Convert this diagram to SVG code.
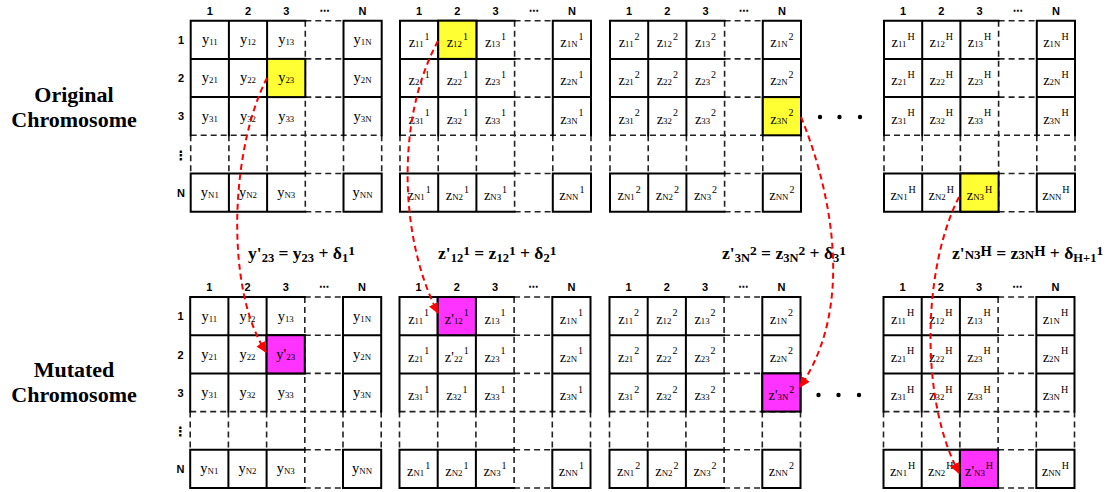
<svg xmlns="http://www.w3.org/2000/svg" xmlns:xlink="http://www.w3.org/1999/xlink" width="1118" height="492" viewBox="0 0 1118 492">
<style>
.bg{fill:#fff}
.sl{fill:none;stroke:#000;stroke-width:2;stroke-linecap:square}
.dl{fill:none;stroke:#222;stroke-width:1.6;stroke-dasharray:6 4}
.hy{fill:#FFFF33;stroke:#000;stroke-width:2}
.hm{fill:#FF33FF;stroke:#000;stroke-width:2}
.t{font-family:"Liberation Serif","Times New Roman",serif;font-size:14.5px;text-anchor:middle;fill:#000}
.s{font-size:8.8px}
.p{font-size:10px}
.h{font-family:"Liberation Sans",Arial,sans-serif;font-size:11px;font-weight:bold;text-anchor:middle;fill:#000}
.hd{font-family:"DejaVu Sans",sans-serif;font-size:10px;font-weight:bold;text-anchor:middle;fill:#000}
.hv{font-family:"DejaVu Sans",sans-serif;font-size:13px;font-weight:bold;text-anchor:middle;fill:#000}
.lab{font-family:"Liberation Serif","Times New Roman",serif;font-size:22px;font-weight:bold;text-anchor:middle;fill:#000}
.f{font-family:"Liberation Serif","Times New Roman",serif;font-size:17.5px;font-weight:bold;fill:#000}
.fs{font-size:12.5px}
.fp{font-size:13.5px}
.arr{fill:none;stroke:#FF0000;stroke-width:2;stroke-dasharray:6 4}
.dot{fill:#000}
</style>
<defs>
<g id="grid">
<path class="dl" d="M114.6,0H152.8 M114.6,38.2H152.8 M114.6,76.4H152.8 M114.6,152.8H152.8 M114.6,191H152.8 M0,114.6H191 M114.6,0V191 M0,114.6V152.8 M38.2,114.6V152.8 M76.4,114.6V152.8 M152.8,114.6V152.8 M191,114.6V152.8"/>
<path class="sl" d="M0,0H114.6 M152.8,0H191 M0,38.2H114.6 M152.8,38.2H191 M0,76.4H114.6 M152.8,76.4H191 M0,152.8H114.6 M152.8,152.8H191 M0,191H114.6 M152.8,191H191 M0,0V114.6 M0,152.8V191 M38.2,0V114.6 M38.2,152.8V191 M76.4,0V114.6 M76.4,152.8V191 M152.8,0V114.6 M152.8,152.8V191 M191,0V114.6 M191,152.8V191"/>
</g>
<g id="colhead">
<text class="h" x="19.1" y="-6">1</text>
<text class="h" x="57.3" y="-6">2</text>
<text class="h" x="95.5" y="-6">3</text>
<text class="hd" x="133.7" y="-7">⋯</text>
<text class="h" x="171.9" y="-6">N</text>
</g>
<g id="rowhead">
<text class="h" x="-9.7" y="23.4">1</text>
<text class="h" x="-9.7" y="61.6">2</text>
<text class="h" x="-9.7" y="99.8">3</text>
<text class="hv" x="-9.7" y="139">⋮</text>
<text class="h" x="-9.7" y="176.2">N</text>
</g>
<marker id="ah" viewBox="0 0 10 10" refX="9" refY="5" markerWidth="11" markerHeight="11" markerUnits="userSpaceOnUse" orient="auto">
<path d="M0,0.5 L10,5 L0,9.5 z" fill="#FF0000"/>
</marker>
</defs>
<rect class="bg" x="0" y="0" width="1118" height="492"/>

<g id="label-original">
<text class="lab" x="74" y="101.5">Original</text>
<text class="lab" x="74" y="126.5">Chromosome</text>
</g>
<g id="label-mutated">
<text class="lab" x="74" y="376.5">Mutated</text>
<text class="lab" x="74" y="401.5">Chromosome</text>
</g>

<!-- Top row: original chromosome -->
<g id="orig-y" transform="translate(190.7,20.7)">
<use href="#grid"/>
<rect class="hy" x="76.4" y="38.2" width="38.2" height="38.2"/>
<use href="#colhead"/>
<use href="#rowhead"/>
<g class="t">
<text x="19.1" y="23.6">y<tspan class="s" dy="1">11</tspan></text>
<text x="57.3" y="23.6">y<tspan class="s" dy="1">12</tspan></text>
<text x="95.5" y="23.6">y<tspan class="s" dy="1">13</tspan></text>
<text x="171.9" y="23.6">y<tspan class="s" dy="1">1N</tspan></text>
<text x="19.1" y="61.8">y<tspan class="s" dy="1">21</tspan></text>
<text x="57.3" y="61.8">y<tspan class="s" dy="1">22</tspan></text>
<text x="95.5" y="61.8">y<tspan class="s" dy="1">23</tspan></text>
<text x="171.9" y="61.8">y<tspan class="s" dy="1">2N</tspan></text>
<text x="19.1" y="100">y<tspan class="s" dy="1">31</tspan></text>
<text x="57.3" y="100">y<tspan class="s" dy="1">32</tspan></text>
<text x="95.5" y="100">y<tspan class="s" dy="1">33</tspan></text>
<text x="171.9" y="100">y<tspan class="s" dy="1">3N</tspan></text>
<text x="19.1" y="176.4">y<tspan class="s" dy="1">N1</tspan></text>
<text x="57.3" y="176.4">y<tspan class="s" dy="1">N2</tspan></text>
<text x="95.5" y="176.4">y<tspan class="s" dy="1">N3</tspan></text>
<text x="171.9" y="176.4">y<tspan class="s" dy="1">NN</tspan></text>
</g>
</g>

<g id="orig-z1" transform="translate(400,20.7)">
<use href="#grid"/>
<rect class="hy" x="38.2" y="0" width="38.2" height="38.2"/>
<use href="#colhead"/>
<g class="t">
<text x="19.1" y="26.6">z<tspan class="s">11</tspan><tspan class="p" dx="1" dy="-7.5">1</tspan></text>
<text x="57.3" y="26.6">z<tspan class="s">12</tspan><tspan class="p" dx="1" dy="-7.5">1</tspan></text>
<text x="95.5" y="26.6">z<tspan class="s">13</tspan><tspan class="p" dx="1" dy="-7.5">1</tspan></text>
<text x="171.9" y="26.6">z<tspan class="s">1N</tspan><tspan class="p" dx="1" dy="-7.5">1</tspan></text>
<text x="19.1" y="64.8">z<tspan class="s">21</tspan><tspan class="p" dx="1" dy="-7.5">1</tspan></text>
<text x="57.3" y="64.8">z<tspan class="s">22</tspan><tspan class="p" dx="1" dy="-7.5">1</tspan></text>
<text x="95.5" y="64.8">z<tspan class="s">23</tspan><tspan class="p" dx="1" dy="-7.5">1</tspan></text>
<text x="171.9" y="64.8">z<tspan class="s">2N</tspan><tspan class="p" dx="1" dy="-7.5">1</tspan></text>
<text x="19.1" y="103">z<tspan class="s">31</tspan><tspan class="p" dx="1" dy="-7.5">1</tspan></text>
<text x="57.3" y="103">z<tspan class="s">32</tspan><tspan class="p" dx="1" dy="-7.5">1</tspan></text>
<text x="95.5" y="103">z<tspan class="s">33</tspan><tspan class="p" dx="1" dy="-7.5">1</tspan></text>
<text x="171.9" y="103">z<tspan class="s">3N</tspan><tspan class="p" dx="1" dy="-7.5">1</tspan></text>
<text x="19.1" y="179.4">z<tspan class="s">N1</tspan><tspan class="p" dx="1" dy="-7.5">1</tspan></text>
<text x="57.3" y="179.4">z<tspan class="s">N2</tspan><tspan class="p" dx="1" dy="-7.5">1</tspan></text>
<text x="95.5" y="179.4">z<tspan class="s">N3</tspan><tspan class="p" dx="1" dy="-7.5">1</tspan></text>
<text x="171.9" y="179.4">z<tspan class="s">NN</tspan><tspan class="p" dx="1" dy="-7.5">1</tspan></text>
</g>
</g>

<g id="orig-z2" transform="translate(610,20.7)">
<use href="#grid"/>
<rect class="hy" x="152.8" y="76.4" width="38.2" height="38.2"/>
<use href="#colhead"/>
<g class="t">
<text x="19.1" y="26.6">z<tspan class="s">11</tspan><tspan class="p" dx="1" dy="-7.5">2</tspan></text>
<text x="57.3" y="26.6">z<tspan class="s">12</tspan><tspan class="p" dx="1" dy="-7.5">2</tspan></text>
<text x="95.5" y="26.6">z<tspan class="s">13</tspan><tspan class="p" dx="1" dy="-7.5">2</tspan></text>
<text x="171.9" y="26.6">z<tspan class="s">1N</tspan><tspan class="p" dx="1" dy="-7.5">2</tspan></text>
<text x="19.1" y="64.8">z<tspan class="s">21</tspan><tspan class="p" dx="1" dy="-7.5">2</tspan></text>
<text x="57.3" y="64.8">z<tspan class="s">22</tspan><tspan class="p" dx="1" dy="-7.5">2</tspan></text>
<text x="95.5" y="64.8">z<tspan class="s">23</tspan><tspan class="p" dx="1" dy="-7.5">2</tspan></text>
<text x="171.9" y="64.8">z<tspan class="s">2N</tspan><tspan class="p" dx="1" dy="-7.5">2</tspan></text>
<text x="19.1" y="103">z<tspan class="s">31</tspan><tspan class="p" dx="1" dy="-7.5">2</tspan></text>
<text x="57.3" y="103">z<tspan class="s">32</tspan><tspan class="p" dx="1" dy="-7.5">2</tspan></text>
<text x="95.5" y="103">z<tspan class="s">33</tspan><tspan class="p" dx="1" dy="-7.5">2</tspan></text>
<text x="171.9" y="103">z<tspan class="s">3N</tspan><tspan class="p" dx="1" dy="-7.5">2</tspan></text>
<text x="19.1" y="179.4">z<tspan class="s">N1</tspan><tspan class="p" dx="1" dy="-7.5">2</tspan></text>
<text x="57.3" y="179.4">z<tspan class="s">N2</tspan><tspan class="p" dx="1" dy="-7.5">2</tspan></text>
<text x="95.5" y="179.4">z<tspan class="s">N3</tspan><tspan class="p" dx="1" dy="-7.5">2</tspan></text>
<text x="171.9" y="179.4">z<tspan class="s">NN</tspan><tspan class="p" dx="1" dy="-7.5">2</tspan></text>
</g>
</g>

<g id="orig-zH" transform="translate(884,20.7)">
<use href="#grid"/>
<rect class="hy" x="76.4" y="152.8" width="38.2" height="38.2"/>
<use href="#colhead"/>
<g class="t">
<text x="19.1" y="26.6">z<tspan class="s">11</tspan><tspan class="p" dx="1" dy="-7.5">H</tspan></text>
<text x="57.3" y="26.6">z<tspan class="s">12</tspan><tspan class="p" dx="1" dy="-7.5">H</tspan></text>
<text x="95.5" y="26.6">z<tspan class="s">13</tspan><tspan class="p" dx="1" dy="-7.5">H</tspan></text>
<text x="171.9" y="26.6">z<tspan class="s">1N</tspan><tspan class="p" dx="1" dy="-7.5">H</tspan></text>
<text x="19.1" y="64.8">z<tspan class="s">21</tspan><tspan class="p" dx="1" dy="-7.5">H</tspan></text>
<text x="57.3" y="64.8">z<tspan class="s">22</tspan><tspan class="p" dx="1" dy="-7.5">H</tspan></text>
<text x="95.5" y="64.8">z<tspan class="s">23</tspan><tspan class="p" dx="1" dy="-7.5">H</tspan></text>
<text x="171.9" y="64.8">z<tspan class="s">2N</tspan><tspan class="p" dx="1" dy="-7.5">H</tspan></text>
<text x="19.1" y="103">z<tspan class="s">31</tspan><tspan class="p" dx="1" dy="-7.5">H</tspan></text>
<text x="57.3" y="103">z<tspan class="s">32</tspan><tspan class="p" dx="1" dy="-7.5">H</tspan></text>
<text x="95.5" y="103">z<tspan class="s">33</tspan><tspan class="p" dx="1" dy="-7.5">H</tspan></text>
<text x="171.9" y="103">z<tspan class="s">3N</tspan><tspan class="p" dx="1" dy="-7.5">H</tspan></text>
<text x="19.1" y="179.4">z<tspan class="s">N1</tspan><tspan class="p" dx="1" dy="-7.5">H</tspan></text>
<text x="57.3" y="179.4">z<tspan class="s">N2</tspan><tspan class="p" dx="1" dy="-7.5">H</tspan></text>
<text x="95.5" y="179.4">z<tspan class="s">N3</tspan><tspan class="p" dx="1" dy="-7.5">H</tspan></text>
<text x="171.9" y="179.4">z<tspan class="s">NN</tspan><tspan class="p" dx="1" dy="-7.5">H</tspan></text>
</g>
</g>

<!-- Bottom row: mutated chromosome -->
<g id="mut-y" transform="translate(190.2,297)">
<use href="#grid"/>
<rect class="hm" x="76.4" y="38.2" width="38.2" height="38.2"/>
<use href="#colhead"/>
<use href="#rowhead"/>
<g class="t">
<text x="19.1" y="23.6">y<tspan class="s" dy="1">11</tspan></text>
<text x="57.3" y="23.6">y<tspan class="s" dy="1">12</tspan></text>
<text x="95.5" y="23.6">y<tspan class="s" dy="1">13</tspan></text>
<text x="171.9" y="23.6">y<tspan class="s" dy="1">1N</tspan></text>
<text x="19.1" y="61.8">y<tspan class="s" dy="1">21</tspan></text>
<text x="57.3" y="61.8">y<tspan class="s" dy="1">22</tspan></text>
<text x="95.5" y="61.8">y'<tspan class="s" dy="1">23</tspan></text>
<text x="171.9" y="61.8">y<tspan class="s" dy="1">2N</tspan></text>
<text x="19.1" y="100">y<tspan class="s" dy="1">31</tspan></text>
<text x="57.3" y="100">y<tspan class="s" dy="1">32</tspan></text>
<text x="95.5" y="100">y<tspan class="s" dy="1">33</tspan></text>
<text x="171.9" y="100">y<tspan class="s" dy="1">3N</tspan></text>
<text x="19.1" y="176.4">y<tspan class="s" dy="1">N1</tspan></text>
<text x="57.3" y="176.4">y<tspan class="s" dy="1">N2</tspan></text>
<text x="95.5" y="176.4">y<tspan class="s" dy="1">N3</tspan></text>
<text x="171.9" y="176.4">y<tspan class="s" dy="1">NN</tspan></text>
</g>
</g>

<g id="mut-z1" transform="translate(399.5,297)">
<use href="#grid"/>
<rect class="hm" x="38.2" y="0" width="38.2" height="38.2"/>
<use href="#colhead"/>
<g class="t">
<text x="19.1" y="26.6">z<tspan class="s">11</tspan><tspan class="p" dx="1" dy="-7.5">1</tspan></text>
<text x="57.3" y="26.6">z'<tspan class="s">12</tspan><tspan class="p" dx="1" dy="-7.5">1</tspan></text>
<text x="95.5" y="26.6">z<tspan class="s">13</tspan><tspan class="p" dx="1" dy="-7.5">1</tspan></text>
<text x="171.9" y="26.6">z<tspan class="s">1N</tspan><tspan class="p" dx="1" dy="-7.5">1</tspan></text>
<text x="19.1" y="64.8">z<tspan class="s">21</tspan><tspan class="p" dx="1" dy="-7.5">1</tspan></text>
<text x="57.3" y="64.8">z'<tspan class="s">22</tspan><tspan class="p" dx="1" dy="-7.5">1</tspan></text>
<text x="95.5" y="64.8">z<tspan class="s">23</tspan><tspan class="p" dx="1" dy="-7.5">1</tspan></text>
<text x="171.9" y="64.8">z<tspan class="s">2N</tspan><tspan class="p" dx="1" dy="-7.5">1</tspan></text>
<text x="19.1" y="103">z<tspan class="s">31</tspan><tspan class="p" dx="1" dy="-7.5">1</tspan></text>
<text x="57.3" y="103">z<tspan class="s">32</tspan><tspan class="p" dx="1" dy="-7.5">1</tspan></text>
<text x="95.5" y="103">z<tspan class="s">33</tspan><tspan class="p" dx="1" dy="-7.5">1</tspan></text>
<text x="171.9" y="103">z<tspan class="s">3N</tspan><tspan class="p" dx="1" dy="-7.5">1</tspan></text>
<text x="19.1" y="179.4">z<tspan class="s">N1</tspan><tspan class="p" dx="1" dy="-7.5">1</tspan></text>
<text x="57.3" y="179.4">z<tspan class="s">N2</tspan><tspan class="p" dx="1" dy="-7.5">1</tspan></text>
<text x="95.5" y="179.4">z<tspan class="s">N3</tspan><tspan class="p" dx="1" dy="-7.5">1</tspan></text>
<text x="171.9" y="179.4">z<tspan class="s">NN</tspan><tspan class="p" dx="1" dy="-7.5">1</tspan></text>
</g>
</g>

<g id="mut-z2" transform="translate(609.5,297)">
<use href="#grid"/>
<rect class="hm" x="152.8" y="76.4" width="38.2" height="38.2"/>
<use href="#colhead"/>
<g class="t">
<text x="19.1" y="26.6">z<tspan class="s">11</tspan><tspan class="p" dx="1" dy="-7.5">2</tspan></text>
<text x="57.3" y="26.6">z<tspan class="s">12</tspan><tspan class="p" dx="1" dy="-7.5">2</tspan></text>
<text x="95.5" y="26.6">z<tspan class="s">13</tspan><tspan class="p" dx="1" dy="-7.5">2</tspan></text>
<text x="171.9" y="26.6">z<tspan class="s">1N</tspan><tspan class="p" dx="1" dy="-7.5">2</tspan></text>
<text x="19.1" y="64.8">z<tspan class="s">21</tspan><tspan class="p" dx="1" dy="-7.5">2</tspan></text>
<text x="57.3" y="64.8">z<tspan class="s">22</tspan><tspan class="p" dx="1" dy="-7.5">2</tspan></text>
<text x="95.5" y="64.8">z<tspan class="s">23</tspan><tspan class="p" dx="1" dy="-7.5">2</tspan></text>
<text x="171.9" y="64.8">z<tspan class="s">2N</tspan><tspan class="p" dx="1" dy="-7.5">2</tspan></text>
<text x="19.1" y="103">z<tspan class="s">31</tspan><tspan class="p" dx="1" dy="-7.5">2</tspan></text>
<text x="57.3" y="103">z<tspan class="s">32</tspan><tspan class="p" dx="1" dy="-7.5">2</tspan></text>
<text x="95.5" y="103">z<tspan class="s">33</tspan><tspan class="p" dx="1" dy="-7.5">2</tspan></text>
<text x="171.9" y="103">z'<tspan class="s">3N</tspan><tspan class="p" dx="1" dy="-7.5">2</tspan></text>
<text x="19.1" y="179.4">z<tspan class="s">N1</tspan><tspan class="p" dx="1" dy="-7.5">2</tspan></text>
<text x="57.3" y="179.4">z<tspan class="s">N2</tspan><tspan class="p" dx="1" dy="-7.5">2</tspan></text>
<text x="95.5" y="179.4">z<tspan class="s">N3</tspan><tspan class="p" dx="1" dy="-7.5">2</tspan></text>
<text x="171.9" y="179.4">z<tspan class="s">NN</tspan><tspan class="p" dx="1" dy="-7.5">2</tspan></text>
</g>
</g>

<g id="mut-zH" transform="translate(883.5,297)">
<use href="#grid"/>
<rect class="hm" x="76.4" y="152.8" width="38.2" height="38.2"/>
<use href="#colhead"/>
<g class="t">
<text x="19.1" y="26.6">z<tspan class="s">11</tspan><tspan class="p" dx="1" dy="-7.5">H</tspan></text>
<text x="57.3" y="26.6">z<tspan class="s">12</tspan><tspan class="p" dx="1" dy="-7.5">H</tspan></text>
<text x="95.5" y="26.6">z<tspan class="s">13</tspan><tspan class="p" dx="1" dy="-7.5">H</tspan></text>
<text x="171.9" y="26.6">z<tspan class="s">1N</tspan><tspan class="p" dx="1" dy="-7.5">H</tspan></text>
<text x="19.1" y="64.8">z<tspan class="s">21</tspan><tspan class="p" dx="1" dy="-7.5">H</tspan></text>
<text x="57.3" y="64.8">z<tspan class="s">22</tspan><tspan class="p" dx="1" dy="-7.5">H</tspan></text>
<text x="95.5" y="64.8">z<tspan class="s">23</tspan><tspan class="p" dx="1" dy="-7.5">H</tspan></text>
<text x="171.9" y="64.8">z<tspan class="s">2N</tspan><tspan class="p" dx="1" dy="-7.5">H</tspan></text>
<text x="19.1" y="103">z<tspan class="s">31</tspan><tspan class="p" dx="1" dy="-7.5">H</tspan></text>
<text x="57.3" y="103">z<tspan class="s">32</tspan><tspan class="p" dx="1" dy="-7.5">H</tspan></text>
<text x="95.5" y="103">z<tspan class="s">33</tspan><tspan class="p" dx="1" dy="-7.5">H</tspan></text>
<text x="171.9" y="103">z<tspan class="s">3N</tspan><tspan class="p" dx="1" dy="-7.5">H</tspan></text>
<text x="19.1" y="179.4">z<tspan class="s">N1</tspan><tspan class="p" dx="1" dy="-7.5">H</tspan></text>
<text x="57.3" y="179.4">z<tspan class="s">N2</tspan><tspan class="p" dx="1" dy="-7.5">H</tspan></text>
<text x="95.5" y="179.4">z'<tspan class="s">N3</tspan><tspan class="p" dx="1" dy="-7.5">H</tspan></text>
<text x="171.9" y="179.4">z<tspan class="s">NN</tspan><tspan class="p" dx="1" dy="-7.5">H</tspan></text>
</g>
</g>

<g id="ellipsis-top">
<circle class="dot" cx="820" cy="117" r="2.2"/>
<circle class="dot" cx="839.5" cy="117" r="2.2"/>
<circle class="dot" cx="860" cy="117" r="2.2"/>
</g>
<g id="ellipsis-bottom">
<circle class="dot" cx="818.5" cy="395" r="2.2"/>
<circle class="dot" cx="838.5" cy="395" r="2.2"/>
<circle class="dot" cx="859" cy="395" r="2.2"/>
</g>

<g id="formulas">
<text class="f" x="248" y="259">y'<tspan class="fs" dy="3">23</tspan><tspan dy="-3"> = y</tspan><tspan class="fs" dy="3">23</tspan><tspan dy="-3"> + δ</tspan><tspan class="fs" dy="3">1</tspan><tspan class="fp" dy="-7">1</tspan></text>
<text class="f" x="438" y="259">z'<tspan class="fs" dy="3">12</tspan><tspan class="fp" dy="-7">1</tspan><tspan dy="4"> = z</tspan><tspan class="fs" dy="3">12</tspan><tspan class="fp" dy="-7">1</tspan><tspan dy="4"> + δ</tspan><tspan class="fs" dy="3">2</tspan><tspan class="fp" dy="-7">1</tspan></text>
<text class="f" x="722" y="259">z'<tspan class="fs" dy="3">3N</tspan><tspan class="fp" dy="-7">2</tspan><tspan dy="4"> = z</tspan><tspan class="fs" dy="3">3N</tspan><tspan class="fp" dy="-7">2</tspan><tspan dy="4"> + δ</tspan><tspan class="fs" dy="3">3</tspan><tspan class="fp" dy="-7">1</tspan></text>
<text class="f" x="952" y="259">z'<tspan style="font-size:13px">N3</tspan><tspan style="font-size:14.5px" dy="-3.5">H</tspan><tspan dy="3.5"> = z</tspan><tspan style="font-size:13px">3N</tspan><tspan style="font-size:14.5px" dy="-3.5">H</tspan><tspan dy="3.5"> + δ</tspan><tspan class="fs" dy="3">H+1</tspan><tspan class="fp" dy="-7">1</tspan></text>
</g>

<g id="connectors">
<path class="arr" d="M267,78 C230,150 225,290 266,352" marker-end="url(#ah)"/>
<path class="arr" d="M438,41 C395,120 400,240 438,313" marker-end="url(#ah)"/>
<path class="arr" d="M801,117 C825,175 860,300 800,387" marker-end="url(#ah)"/>
<path class="arr" d="M959,197 C922,270 920,400 959,473" marker-end="url(#ah)"/>
</g>
</svg>
